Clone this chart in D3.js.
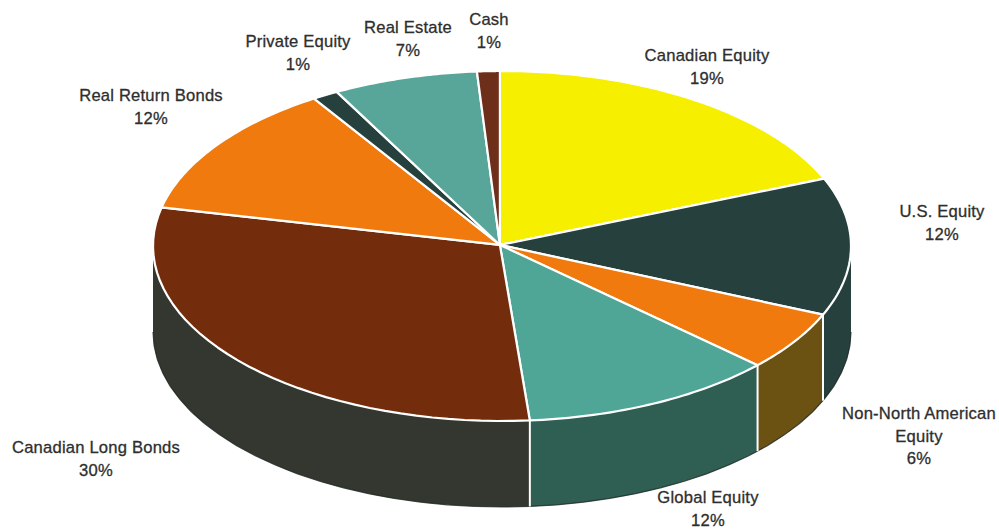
<!DOCTYPE html>
<html><head><meta charset="utf-8">
<style>html,body{margin:0;padding:0;background:#fff}svg{display:block}
text{font-family:"Liberation Sans",Arial,sans-serif;font-size:16.6px;letter-spacing:.2px;fill:#2e2e2e;stroke:#2e2e2e;stroke-width:.3px;text-anchor:middle}</style>
<script src="https://cdn.jsdelivr.net/npm/d3@7/dist/d3.min.js"></script>
</head><body><svg id="c" width="999" height="529"></svg>
<script>
const categories=["Canadian Equity","U.S. Equity","Non-North American Equity","Global Equity","Canadian Long Bonds","Real Return Bonds","Private Equity","Real Estate","Cash"];
const values=[18.8,12.7,5.5,11.8,29.8,12.4,1.2,6.7,1.05];
const topColors=["#f6f000","#26403d","#f07a0e","#4fa696","#742d0c","#f07a0e","#26403d","#57a699","#6e2f1a"];
const sideColors=["#8a8500","#26403d","#6c5212","#2f5e53","#33372f","#8a4a10","#26403d","#2f5e53","#3a2015"];
const labelLines=[["Canadian Equity","19%"],["U.S. Equity","12%"],["Non-North American","Equity","6%"],["Global Equity","12%"],["Canadian Long Bonds","30%"],["Real Return Bonds","12%"],["Private Equity","1%"],["Real Estate","7%"],["Cash","1%"]];
const labelAnchors=[[707,61],[942,217],[919,419],[708,503],[96,453],[151,101],[298,47],[408,33],[489,25]];

const svg=d3.select("#c");
const depth=86;
const sx=d3.scaleLinear().domain([-1,1]).range([153,851]);
const sy=d3.scaleLinear().domain([-1,1]).range([71,421]);
const rot=-0.006;
const arcs=d3.pie().sort(null).startAngle(rot).endAngle(2*Math.PI+rot).value(d=>d)(values);
const line=d3.line().x(p=>p[0]).y(p=>p[1]);
const pt=(a,dy=0)=>[sx(Math.sin(a)),sy(-Math.cos(a))+dy];
const samples=(a0,a1)=>d3.range(0,41).map(i=>a0+(a1-a0)*i/40);
const hub=[sx(-0.006),sy(-0.006)];

const front=[Math.PI/2,Math.PI*1.5];
const walls=arcs.map((d,i)=>({i,a0:Math.max(d.startAngle,front[0]),a1:Math.min(d.endAngle,front[1])})).filter(d=>d.a1>d.a0);
svg.append("g").selectAll("path").data(walls).join("path")
  .attr("d",d=>line([...samples(d.a0,d.a1).map(a=>pt(a)),...samples(d.a1,d.a0).map(a=>pt(a,depth))])+"Z")
  .attr("fill",d=>sideColors[d.i]);
svg.append("path").attr("fill","none").attr("stroke","#1f2a26").attr("stroke-width",1.2).attr("opacity",.8)
  .attr("d",line(samples(front[0],front[1]).map(a=>pt(a,depth))));
svg.append("g").selectAll("line").data(walls.slice(1)).join("line")
  .attr("x1",d=>pt(d.a0)[0]).attr("y1",d=>pt(d.a0)[1])
  .attr("x2",d=>pt(d.a0,depth)[0]).attr("y2",d=>pt(d.a0,depth)[1])
  .attr("stroke","#fff").attr("stroke-width",2);
svg.append("g").selectAll("path").data(arcs).join("path")
  .attr("d",d=>line([hub,...samples(d.startAngle,d.endAngle).map(a=>pt(a))])+"Z")
  .attr("fill",(d,i)=>topColors[i]).attr("stroke","#fff").attr("stroke-width",2.2).attr("stroke-linejoin","round");
const lab=svg.append("g").selectAll("text").data(categories).join("text")
  .attr("transform",(d,i)=>`translate(${labelAnchors[i]})`);
lab.selectAll("tspan").data((d,i)=>labelLines[i]).join("tspan")
  .attr("x",0).attr("dy",(d,j)=>j?22.5:0).text(d=>d);
</script></body></html>
